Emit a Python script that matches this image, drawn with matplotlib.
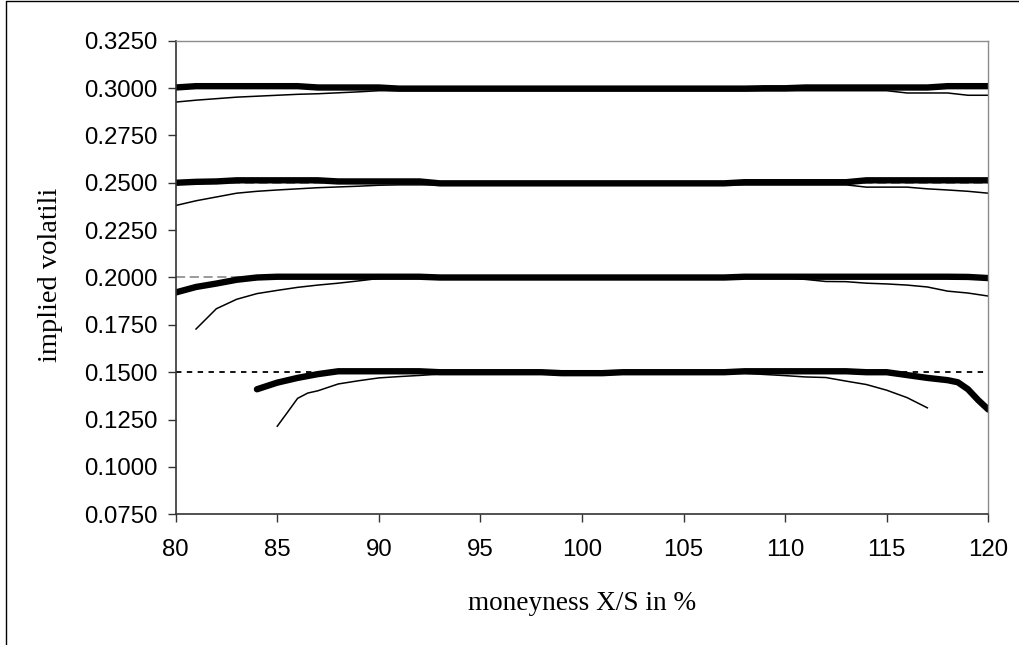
import matplotlib
matplotlib.use("Agg")
import matplotlib.pyplot as plt
from matplotlib.lines import Line2D

# moneyness grid (X/S in %)
x_full = list(range(80, 121))

# sigma = 0.30
thick_30 = [0.3003, 0.3010, 0.3010, 0.3010, 0.3010, 0.3010, 0.3010, 0.3003, 0.3003, 0.3003,
            0.3003, 0.2997, 0.2997, 0.2997, 0.2997, 0.2997, 0.2997, 0.2997, 0.2997, 0.2997,
            0.2997, 0.2997, 0.2997, 0.2997, 0.2997, 0.2997, 0.2997, 0.2997, 0.2997, 0.2999,
            0.2999, 0.3003, 0.3003, 0.3003, 0.3003, 0.3003, 0.3003, 0.3003, 0.3010, 0.3010,
            0.3010]
thin_30 = [0.2926, 0.2936, 0.2944, 0.2952, 0.2957, 0.2962, 0.2967, 0.2970, 0.2975, 0.2980,
           0.2986, 0.2986, 0.2986, 0.2986, 0.2986, 0.2986, 0.2986, 0.2986, 0.2986, 0.2986,
           0.2986, 0.2986, 0.2986, 0.2986, 0.2986, 0.2986, 0.2986, 0.2986, 0.2986, 0.2986,
           0.2986, 0.2986, 0.2986, 0.2986, 0.2986, 0.2986, 0.2974, 0.2974, 0.2974, 0.2962,
           0.2962]

# sigma = 0.25
thick_25 = [0.2500, 0.2505, 0.2507, 0.2513, 0.2513, 0.2513, 0.2513, 0.2513, 0.2507, 0.2507,
            0.2507, 0.2507, 0.2507, 0.2497, 0.2497, 0.2497, 0.2497, 0.2497, 0.2497, 0.2497,
            0.2497, 0.2497, 0.2497, 0.2497, 0.2497, 0.2497, 0.2497, 0.2497, 0.2503, 0.2503,
            0.2503, 0.2503, 0.2503, 0.2503, 0.2513, 0.2513, 0.2513, 0.2513, 0.2513, 0.2513,
            0.2513]
thin_25 = [0.2380, 0.2405, 0.2425, 0.2445, 0.2455, 0.2462, 0.2468, 0.2474, 0.2478, 0.2482,
           0.2487, 0.2489, 0.2489, 0.2489, 0.2489, 0.2489, 0.2489, 0.2489, 0.2489, 0.2489,
           0.2489, 0.2489, 0.2489, 0.2489, 0.2489, 0.2489, 0.2489, 0.2489, 0.2489, 0.2489,
           0.2489, 0.2489, 0.2489, 0.2489, 0.2477, 0.2477, 0.2477, 0.2468, 0.2462, 0.2455,
           0.2445]

# sigma = 0.20
thick_20 = [0.1921, 0.1950, 0.1968, 0.1988, 0.2000, 0.2004, 0.2004, 0.2004, 0.2004, 0.2004,
            0.2004, 0.2004, 0.2004, 0.2000, 0.2000, 0.2000, 0.2000, 0.2000, 0.2000, 0.2000,
            0.2000, 0.2000, 0.2000, 0.2000, 0.2000, 0.2000, 0.2000, 0.2000, 0.2004, 0.2004,
            0.2004, 0.2004, 0.2004, 0.2004, 0.2004, 0.2004, 0.2004, 0.2004, 0.2004, 0.2003,
            0.1997]
x_thin_20 = list(range(81, 121))
thin_20 = [0.1728, 0.1835, 0.1885, 0.1915, 0.1932, 0.1948, 0.1960, 0.1970, 0.1982, 0.1995,
           0.1998, 0.1998, 0.1998, 0.1998, 0.1998, 0.1998, 0.1998, 0.1998, 0.1998, 0.1998,
           0.1998, 0.1998, 0.1998, 0.1998, 0.1998, 0.1998, 0.1998, 0.1998, 0.1998, 0.1998,
           0.1990, 0.1979, 0.1978, 0.1970, 0.1966, 0.1960, 0.1950, 0.1928, 0.1918, 0.1902]

# sigma = 0.15
x_thick_15 = [84, 85, 86, 87, 88, 89, 90, 91, 92, 93, 94, 95, 96, 97, 98, 99, 100, 101, 102,
              103, 104, 105, 106, 107, 108, 109, 110, 111, 112, 113, 114, 115, 116, 117, 118,
              118.5, 119, 119.5, 120]
thick_15 = [0.1410, 0.1445, 0.1470, 0.1490, 0.1505, 0.1505, 0.1505, 0.1505, 0.1505, 0.1500,
            0.1500, 0.1500, 0.1500, 0.1500, 0.1500, 0.1495, 0.1495, 0.1495, 0.1500, 0.1500,
            0.1500, 0.1500, 0.1500, 0.1500, 0.1505, 0.1505, 0.1505, 0.1505, 0.1505, 0.1505,
            0.1500, 0.1500, 0.1485, 0.1470, 0.1458, 0.1447, 0.1410, 0.1353, 0.1303]
x_thin_15 = [85, 85.5, 86, 86.5, 87, 88, 89, 90, 91, 92, 93, 94, 95, 96, 97, 98, 99, 100, 101,
             102, 103, 104, 105, 106, 107, 108, 109, 110, 111, 112, 113, 114, 115, 116, 117]
thin_15 = [0.1215, 0.1288, 0.1362, 0.1390, 0.1402, 0.1438, 0.1455, 0.1470, 0.1477, 0.1483,
           0.1490, 0.1494, 0.1494, 0.1494, 0.1494, 0.1494, 0.1494, 0.1494, 0.1494, 0.1494,
           0.1494, 0.1494, 0.1494, 0.1494, 0.1494, 0.1494, 0.1488, 0.1482, 0.1475, 0.1472,
           0.1453, 0.1435, 0.1405, 0.1366, 0.1312]

# reference (true) volatilities
ref_x = [80, 120]
ref_levels = [0.30, 0.25, 0.20]
ref_low = 0.15

x_ticks = [80, 85, 90, 95, 100, 105, 110, 115, 120]
y_ticks = [0.075, 0.100, 0.125, 0.150, 0.175, 0.200, 0.225, 0.250, 0.275, 0.300, 0.325]

fig = plt.figure(figsize=(10.19, 6.45), dpi=100)
ax = fig.add_axes([175.7 / 1019, 1 - 514.3 / 645, (988.3 - 175.7) / 1019, (514.3 - 40.7) / 645])

# reference lines under the curves
for lvl in ref_levels:
    ax.plot(ref_x, [lvl, lvl], color="#808080", lw=1.1, dashes=(6, 3))
ax.plot(ref_x, [ref_low, ref_low], color="black", lw=1.3, dashes=(3, 3))

thin_kw = dict(color="black", lw=1.1)
thick_kw = dict(color="black", lw=4.6, solid_capstyle="round", solid_joinstyle="round")

ax.plot(x_full, thin_30, **thin_kw)
ax.plot(x_full, thin_25, **thin_kw)
ax.plot(x_thin_20, thin_20, **thin_kw)
ax.plot(x_thin_15, thin_15, **thin_kw)

ax.plot(x_full, thick_30, **thick_kw)
ax.plot(x_full, thick_25, **thick_kw)
ax.plot(x_full, thick_20, **thick_kw)
ax.plot(x_thick_15, thick_15, **thick_kw)

ax.set_xlim(80, 120)
ax.set_ylim(0.075, 0.325)
ax.set_xticks(x_ticks)
ax.set_yticks(y_ticks)
ax.set_yticklabels(["%.4f" % v for v in y_ticks])

for lab in ax.get_xticklabels() + ax.get_yticklabels():
    lab.set_family("Liberation Sans")
    lab.set_fontsize(17.3)

ax.tick_params(direction="out", length=5.8, width=1.0, color="#333333")
ax.tick_params(axis="y", pad=7)
ax.tick_params(axis="x", pad=12)
for side in ["left", "bottom"]:
    ax.spines[side].set_color("#333333")
    ax.spines[side].set_linewidth(1.2)
for side in ["top", "right"]:
    ax.spines[side].set_color("#8c8c8c")
    ax.spines[side].set_linewidth(1.0)

fig.text(581.7 / 1019, 1 - 603 / 645, "moneyness X/S in %", family="Liberation Serif",
         fontsize=19.6, ha="center", va="center")
fig.text(51 / 1019, 1 - 275 / 645, "implied volatili", family="Liberation Serif",
         fontsize=20.5, ha="center", va="center", rotation=90)

# chart border: only left and top edges are visible in the source
fig.lines.append(Line2D([5.5 / 1019, 5.5 / 1019, 1.0], [0.0, 1 - 0.5 / 645, 1 - 0.5 / 645],
                        transform=fig.transFigure, color="black", lw=1.0))

fig.savefig("out.png", dpi=100)
